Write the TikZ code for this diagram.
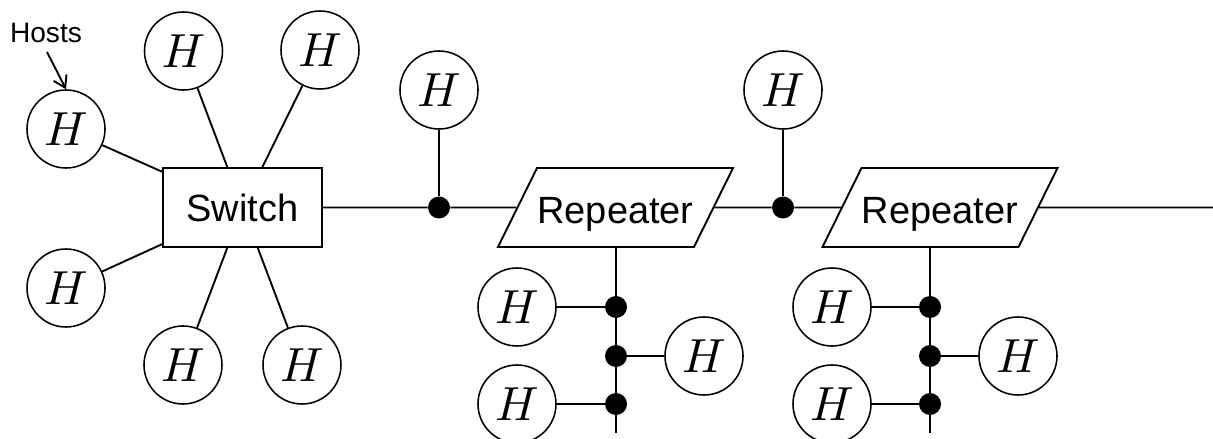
\documentclass[tikz,border=0pt]{standalone}
\usepackage{fontspec}
\setsansfont{Liberation Sans}
\usepackage{tikz}
\usetikzlibrary{shapes.geometric,positioning,calc,arrows.meta}

\newcommand{\hostH}{\scalebox{3.4}{$H$}}

\tikzset{
  host/.style={circle, draw, line width=1.1pt, minimum size=1.95cm, inner sep=0pt,
    font=\fontsize{10}{12}\selectfont},
  dotnode/.style={circle, fill, minimum size=0.55cm, inner sep=0pt},
  link/.style={line width=1.35pt},
  switchbox/.style={rectangle, draw, line width=1.35pt, minimum width=3.975cm, minimum height=1.975cm,
    inner sep=0pt, text depth=0pt, font=\sffamily\fontsize{27}{30}\selectfont},
  repeaterbox/.style={trapezium, trapezium left angle=63.7, trapezium right angle=116.3,
    trapezium stretches body=true, draw, line width=1.35pt, minimum width=5.875cm,
    inner sep=0pt, text height=1.375cm, text depth=0.6cm, font=\sffamily\fontsize{27}{30}\selectfont}
}

\begin{document}
\begin{tikzpicture}[x=0.025cm, y=-0.025cm]
  \useasboundingbox (0,0) rectangle (1213,439);

  % Switch with its star of hosts
  \node[switchbox] (sw) at (242.5, 207.5) {Switch};
  \node[host] (hA) at (66, 129) {\hostH};
  \node[host] (hB) at (183.5, 51) {\hostH};
  \node[host] (hC) at (320, 50) {\hostH};
  \node[host] (hD) at (66, 288) {\hostH};
  \node[host] (hE) at (183, 365) {\hostH};
  \node[host] (hF) at (302, 365) {\hostH};
  \foreach \h in {hA, hB, hC, hD, hE, hF}
    \draw[link] (\h) -- (sw);

  % Label
  \node[font=\sffamily\fontsize{20}{22}\selectfont] (hosts) at (46, 33) {Hosts};
  \coordinate (hoststail) at (47, 52);
  \draw[link, -{Straight Barb[length=2.8mm, width=3.6mm]}] (hoststail) -- (hA.north);

  % Backbone
  \node[dotnode] (j1) at (439, 207.5) {};
  \node[host] (hT1) at (439, 90) {\hostH};
  \node[repeaterbox] (rep1) at (615.5, 207.5) {Repeater};
  \node[dotnode] (j2) at (783, 207.5) {};
  \node[host] (hT2) at (783, 90) {\hostH};
  \node[repeaterbox] (rep2) at (940, 207.5) {Repeater};
  \coordinate (eol) at (1213, 207.5);
  \draw[link] (sw) -- (j1) -- (rep1) -- (j2) -- (rep2) -- (eol);
  \draw[link] (hT1) -- (j1);
  \draw[link] (hT2) -- (j2);

  % Segment below Repeater 1
  \coordinate (bus1) at (616, 433);
  \node[dotnode] (d11) at (616, 307) {};
  \node[dotnode] (d12) at (616, 356) {};
  \node[dotnode] (d13) at (616, 404) {};
  \node[host] (h11) at (517, 307) {\hostH};
  \node[host] (h12) at (704, 356) {\hostH};
  \node[host] (h13) at (517, 404) {\hostH};
  \draw[link] (bus1 |- rep1.south) -- (bus1);
  \draw[link] (h11) -- (d11);
  \draw[link] (d12) -- (h12);
  \draw[link] (h13) -- (d13);

  % Segment below Repeater 2
  \coordinate (bus2) at (930, 433);
  \node[dotnode] (d21) at (930, 307) {};
  \node[dotnode] (d22) at (930, 356) {};
  \node[dotnode] (d23) at (930, 404) {};
  \node[host] (h21) at (832, 307) {\hostH};
  \node[host] (h22) at (1018, 356) {\hostH};
  \node[host] (h23) at (832, 404) {\hostH};
  \draw[link] (bus2 |- rep2.south) -- (bus2);
  \draw[link] (h21) -- (d21);
  \draw[link] (d22) -- (h22);
  \draw[link] (h23) -- (d23);
\end{tikzpicture}
\end{document}
